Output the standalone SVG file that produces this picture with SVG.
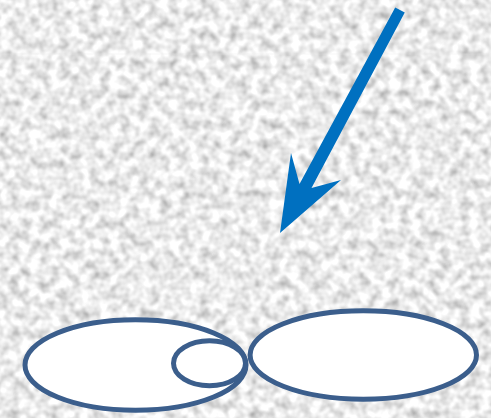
<svg xmlns="http://www.w3.org/2000/svg" width="491" height="418" viewBox="0 0 491 418">
<style>
.node{fill:#ffffff;stroke:#3b5e8c;stroke-width:5}
.arrow{fill:#0070c0}
</style>
<defs>
<filter id="noise" x="0" y="0" width="100%" height="100%" filterUnits="userSpaceOnUse">
<feTurbulence type="fractalNoise" baseFrequency="0.1" numOctaves="2" seed="7" result="t"/>
<feColorMatrix in="t" type="matrix" values="1 0 0 0 0.33  1 0 0 0 0.33  1 0 0 0 0.33  0 0 0 0 1"/>
</filter>
</defs>
<rect x="0" y="0" width="491" height="418" fill="#d4d4d4"/>
<rect x="0" y="0" width="491" height="418" filter="url(#noise)"/>
<line x1="0" y1="54" x2="491" y2="54" stroke="#e6e6e6" stroke-width="0.6" opacity="0.5"/>
<g id="connectors">
<polygon class="arrow" points="395.2,7.4 404.8,12.6 311.5,188 341,180 280,233 291,153 299.5,184"/>
</g>
<g id="node-left">
<ellipse class="node" cx="135.5" cy="365" rx="110.5" ry="45.2"/>
</g>
<g id="node-small">
<ellipse class="node" cx="209.5" cy="363.3" rx="36" ry="22.5"/>
</g>
<g id="node-right">
<ellipse class="node" cx="363.3" cy="355" rx="113.2" ry="44.2"/>
</g>
</svg>
